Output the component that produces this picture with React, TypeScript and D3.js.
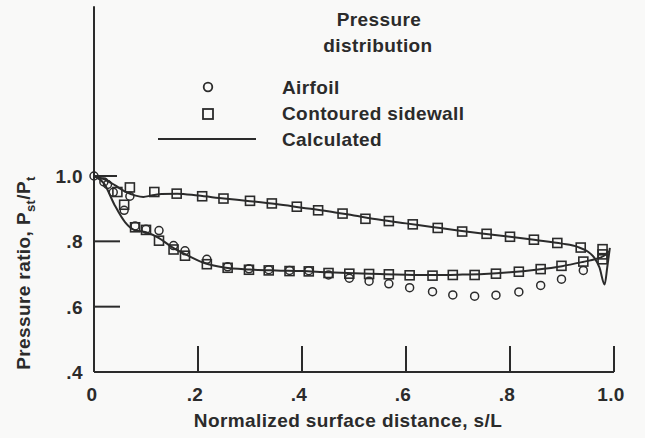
import React from "react";
import * as d3 from "d3";

// ---- data ----
const xTicks = [0, 0.2, 0.4, 0.6, 0.8, 1.0];
const xTickLabels = ["0", ".2", ".4", ".6", ".8", "1.0"];
const yTicks = [0.4, 0.6, 0.8, 1.0];
const yTickLabels = [".4", ".6", ".8", "1.0"];

// Airfoil (circles)
const airfoil: [number, number][] = [
  [0, 1.0], [0.019, 0.982], [0.026, 0.974], [0.037, 0.95], [0.058, 0.895],
  [0.069, 0.938], [0.079, 0.847], [0.1, 0.837], [0.125, 0.833], [0.153, 0.787],
  [0.175, 0.771], [0.217, 0.745], [0.257, 0.722], [0.298, 0.716], [0.336, 0.713],
  [0.376, 0.711], [0.413, 0.71], [0.451, 0.697], [0.491, 0.687], [0.529, 0.678],
  [0.567, 0.67], [0.607, 0.658], [0.651, 0.646], [0.69, 0.636], [0.732, 0.632],
  [0.773, 0.635], [0.817, 0.645], [0.859, 0.665], [0.899, 0.684], [0.941, 0.711],
];

// Contoured sidewall (squares), upper branch
const sidewallUpper: [number, number][] = [
  [0.045, 0.951], [0.058, 0.912], [0.069, 0.965], [0.116, 0.951], [0.159, 0.946],
  [0.208, 0.938], [0.249, 0.931], [0.3, 0.924], [0.342, 0.916], [0.39, 0.906],
  [0.431, 0.895], [0.478, 0.885], [0.522, 0.869], [0.567, 0.862], [0.613, 0.852],
  [0.661, 0.841], [0.708, 0.83], [0.755, 0.823], [0.8, 0.814], [0.846, 0.805],
  [0.891, 0.795], [0.936, 0.781], [0.978, 0.776], [0.978, 0.76], [0.978, 0.745],
];

// Contoured sidewall (squares), lower branch
const sidewallLower: [number, number][] = [
  [0.079, 0.843], [0.1, 0.835], [0.125, 0.802], [0.153, 0.775], [0.175, 0.756],
  [0.217, 0.73], [0.257, 0.719], [0.298, 0.713], [0.336, 0.711], [0.376, 0.709],
  [0.413, 0.708], [0.451, 0.703], [0.491, 0.701], [0.529, 0.7], [0.567, 0.699],
  [0.607, 0.696], [0.651, 0.695], [0.69, 0.697], [0.732, 0.697], [0.773, 0.701],
  [0.817, 0.707], [0.859, 0.715], [0.899, 0.725], [0.941, 0.738],
];

// Calculated curves
const calcUpper: [number, number][] = [
  [0, 1.0], [0.02, 0.99], [0.04, 0.972], [0.06, 0.952], [0.08, 0.94], [0.095, 0.936],
  [0.11, 0.94], [0.13, 0.945], [0.16, 0.946], [0.2, 0.94], [0.25, 0.931], [0.3, 0.923],
  [0.35, 0.914], [0.4, 0.903], [0.45, 0.892], [0.5, 0.879], [0.55, 0.866], [0.6, 0.855],
  [0.65, 0.844], [0.7, 0.833], [0.75, 0.823], [0.8, 0.814], [0.85, 0.804], [0.9, 0.793],
  [0.93, 0.783], [0.95, 0.768], [0.962, 0.75], [0.972, 0.72], [0.982, 0.668],
  [0.987, 0.72], [0.992, 0.78],
];
const calcLower: [number, number][] = [
  [0, 1.0], [0.02, 0.975], [0.04, 0.91], [0.06, 0.858], [0.077, 0.835], [0.1, 0.828],
  [0.125, 0.81], [0.15, 0.782], [0.18, 0.757], [0.215, 0.732], [0.25, 0.72], [0.3, 0.714],
  [0.35, 0.711], [0.4, 0.709], [0.45, 0.705], [0.5, 0.702], [0.55, 0.7], [0.6, 0.698],
  [0.65, 0.697], [0.7, 0.698], [0.75, 0.7], [0.8, 0.705], [0.85, 0.713], [0.9, 0.724],
  [0.94, 0.737], [0.965, 0.746], [0.98, 0.755], [0.99, 0.77],
];

const legendTitle = ["Pressure", "distribution"];
const legendLabels = ["Airfoil", "Contoured sidewall", "Calculated"];
const xTitle = "Normalized surface distance, s/L";

// ---- layout ----
const W = 645;
const H = 438;
const INK = "#2b2b2b";
const FONT = "'Liberation Sans', Arial, Helvetica, sans-serif";

export default function App() {
  const x = d3.scaleLinear().domain([0, 1]).range([94, 614]);
  const y = d3.scaleLinear().domain([0.4, 1.0]).range([372, 176]);
  const yTop = 1.52;
  const tickLen = 26;

  const line = d3
    .line<[number, number]>()
    .x((d) => x(d[0]))
    .y((d) => y(d[1]))
    .curve(d3.curveMonotoneX);

  const sq = 9;
  const textStyle: React.CSSProperties = {
    fontFamily: FONT,
    fontWeight: 700,
    fill: INK,
    letterSpacing: "0.4px",
  };

  return (
    <svg
      width={W}
      height={H}
      style={{ position: "absolute", left: 0, top: 0, background: "#f9f9f8" }}
    >
      <rect width={W} height={H} fill="#f9f9f8" />
      {/* axes */}
      <g stroke={INK} strokeWidth={2} fill="none">
        <line x1={x(0)} x2={x(0)} y1={y(0.4)} y2={y(yTop)} />
        <line x1={x(0)} x2={x(1)} y1={y(0.4)} y2={y(0.4)} />
        {xTicks.slice(1).map((t) => (
          <line key={"xt" + t} x1={x(t)} x2={x(t)} y1={y(0.4)} y2={y(0.4) - tickLen} />
        ))}
        {yTicks.slice(1).map((t) => (
          <line key={"yt" + t} x1={x(0)} x2={x(0) + tickLen - (t === 1 ? 3 : 0)} y1={y(t)} y2={y(t)} />
        ))}
      </g>
      {/* tick labels */}
      <g style={{ ...textStyle, fontSize: 19 }}>
        {xTicks.map((t, i) => (
          <text key={"xl" + t} x={x(t) - (i === 0 ? 2 : 3)} y={401} textAnchor="middle">
            {xTickLabels[i]}
          </text>
        ))}
        {yTicks.map((t, i) => (
          <text key={"yl" + t} x={83} y={y(t) + 7} textAnchor="end">
            {yTickLabels[i]}
          </text>
        ))}
      </g>
      {/* axis titles */}
      <text x={348} y={427} textAnchor="middle" style={{ ...textStyle, fontSize: 19 }}>
        {xTitle}
      </text>
      <text
        transform={`translate(30,273) rotate(-90)`}
        textAnchor="middle"
        style={{ ...textStyle, fontSize: 19 }}
      >
        Pressure ratio, P
        <tspan fontSize={13} dy={5}>st</tspan>
        <tspan dy={-5}>/P</tspan>
        <tspan fontSize={13} dy={5}>t</tspan>
      </text>
      {/* calculated lines */}
      <g stroke={INK} strokeWidth={2} fill="none">
        <path d={line(calcUpper) || ""} />
        <path d={line(calcLower) || ""} />
      </g>
      {/* squares */}
      <g stroke={INK} strokeWidth={1.6} fill="none">
        {sidewallUpper.concat(sidewallLower).map((d, i) => (
          <rect key={"s" + i} x={x(d[0]) - sq / 2} y={y(d[1]) - sq / 2} width={sq} height={sq} />
        ))}
      </g>
      {/* circles */}
      <g stroke={INK} strokeWidth={1.5} fill="none">
        {airfoil.map((d, i) => (
          <circle key={"c" + i} cx={x(d[0])} cy={y(d[1])} r={4} />
        ))}
      </g>
      {/* legend */}
      <g style={{ ...textStyle, fontSize: 19 }}>
        <text x={379} y={26} textAnchor="middle">{legendTitle[0]}</text>
        <text x={378} y={52} textAnchor="middle">{legendTitle[1]}</text>
        <text x={282} y={94}>{legendLabels[0]}</text>
        <text x={282} y={120}>{legendLabels[1]}</text>
        <text x={282} y={146}>{legendLabels[2]}</text>
      </g>
      <circle cx={208} cy={87} r={4.3} stroke={INK} strokeWidth={1.8} fill="none" />
      <rect x={203} y={109} width={10} height={10} stroke={INK} strokeWidth={1.8} fill="none" />
      <line x1={158} x2={256} y1={139} y2={139} stroke={INK} strokeWidth={2} />
    </svg>
  );
}
